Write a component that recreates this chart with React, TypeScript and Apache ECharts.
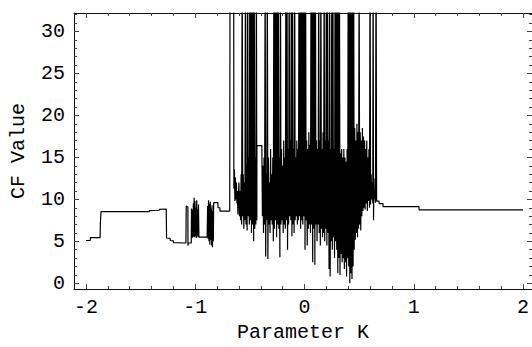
import React, { useEffect, useRef } from "react";
import * as echarts from "echarts";

// Stable region left of the chaotic band: [K, CF]
const leftPoints: [number, number][] = [
  [-2.0, 5.1], [-1.96, 5.1], [-1.958, 5.45], [-1.87, 5.45], [-1.868, 7.0], [-1.862, 8.55],
  [-1.42, 8.55], [-1.418, 8.65], [-1.33, 8.7], [-1.328, 8.8], [-1.265, 8.85], [-1.262, 5.4],
  [-1.23, 5.35], [-1.228, 5.1], [-1.2, 5.05], [-1.198, 4.85], [-1.085, 4.8], [-1.082, 9.2],
  [-1.067, 9.1], [-1.066, 4.5], [-1.062, 4.8], [-1.036, 4.8], [-1.034, 8.9], [-1.029, 5.4],
  [-1.024, 8.8], [-1.021, 5.5], [-1.017, 9.5], [-1.013, 5.6], [-1.01, 10.2], [-1.006, 5.5],
  [-1.002, 9.8], [-0.998, 5.6], [-0.994, 9.0], [-0.99, 5.4], [-0.986, 9.9], [-0.982, 5.7],
  [-0.978, 8.8], [-0.974, 5.5], [-0.97, 9.4], [-0.966, 5.6], [-0.962, 5.5], [-0.891, 5.5],
  [-0.886, 9.2], [-0.882, 5.3], [-0.878, 9.9], [-0.874, 5.0], [-0.87, 9.5], [-0.866, 4.6],
  [-0.862, 9.7], [-0.858, 5.2], [-0.854, 8.9], [-0.85, 4.5], [-0.846, 9.3], [-0.842, 4.3],
  [-0.838, 8.6], [-0.834, 5.0], [-0.831, 9.6], [-0.792, 9.6], [-0.791, 9.0], [-0.774, 9.0],
  [-0.773, 8.6], [-0.684, 8.6], [-0.681, 40], [-0.648, 40], [-0.646, 11.3], [-0.641, 13.6],
  [-0.637, 9.8], [-0.632, 12.6], [-0.628, 10.0], [-0.623, 12.0], [-0.618, 9.5], [-0.614, 11.0],
  [-0.609, 8.2], [-0.604, 10.5],
];

// Chaotic band (values above the top are clipped spikes): [K, CF]
const densePoints: [number, number][] = [
  [-0.6, 12], [-0.595, 8], [-0.59, 11], [-0.585, 7.5], [-0.58, 13], [-0.575, 7], [-0.57, 40],
  [-0.565, 8], [-0.56, 13], [-0.555, 6.5], [-0.55, 12], [-0.545, 7.5], [-0.54, 40], [-0.535, 7],
  [-0.53, 14], [-0.525, 6.3], [-0.52, 40], [-0.515, 8], [-0.51, 15], [-0.505, 7], [-0.5, 40],
  [-0.495, 7.5], [-0.49, 40], [-0.485, 6], [-0.48, 40], [-0.475, 7], [-0.47, 40], [-0.465, 5],
  [-0.46, 40], [-0.455, 6.5], [-0.45, 15], [-0.445, 7], [-0.44, 40], [-0.436, 7.5], [-0.435, 16.4],
  [-0.39, 16.4], [-0.385, 8], [-0.38, 14], [-0.375, 6], [-0.37, 15], [-0.365, 7], [-0.36, 40],
  [-0.355, 3.2], [-0.35, 13], [-0.345, 7.5], [-0.34, 40], [-0.335, 2.9], [-0.33, 15], [-0.325, 7],
  [-0.32, 12], [-0.315, 6], [-0.31, 16], [-0.305, 7.5], [-0.3, 13], [-0.295, 7], [-0.29, 15],
  [-0.285, 5], [-0.28, 40], [-0.275, 6.5], [-0.27, 40], [-0.265, 7.5], [-0.26, 40], [-0.255, 5.5],
  [-0.25, 40], [-0.245, 7], [-0.24, 40], [-0.235, 6.5], [-0.23, 15], [-0.225, 3.1], [-0.22, 40],
  [-0.215, 7], [-0.21, 16], [-0.205, 7.5], [-0.2, 14], [-0.195, 6], [-0.19, 17], [-0.185, 7],
  [-0.18, 15], [-0.175, 6.5], [-0.17, 40], [-0.165, 7.5], [-0.16, 40], [-0.155, 4], [-0.15, 16],
  [-0.145, 7], [-0.14, 40], [-0.135, 8], [-0.13, 17], [-0.125, 7.5], [-0.12, 40], [-0.115, 5.6],
  [-0.11, 40], [-0.105, 7], [-0.1, 16], [-0.095, 6], [-0.09, 40], [-0.085, 7.5], [-0.08, 15],
  [-0.075, 8], [-0.07, 17], [-0.065, 7], [-0.06, 16], [-0.055, 7.5], [-0.05, 40], [-0.045, 8],
  [-0.04, 40], [-0.035, 6.5], [-0.03, 40], [-0.025, 7.5], [-0.02, 40], [-0.015, 7], [-0.01, 40],
  [-0.005, 8], [0.0, 40], [0.005, 4], [0.01, 40], [0.015, 7.5], [0.02, 17], [0.025, 4.5],
  [0.03, 16], [0.035, 6.5], [0.04, 18], [0.045, 7], [0.05, 16.5], [0.055, 6], [0.06, 40],
  [0.065, 7], [0.07, 40], [0.075, 2.5], [0.08, 40], [0.085, 6.5], [0.09, 40], [0.095, 2.2],
  [0.1, 40], [0.105, 7], [0.11, 17], [0.115, 5], [0.12, 16], [0.125, 7], [0.13, 40], [0.135, 6],
  [0.14, 17], [0.145, 4.5], [0.15, 40], [0.155, 6.5], [0.16, 16], [0.165, 5.5], [0.17, 18],
  [0.175, 6], [0.18, 40], [0.185, 5], [0.19, 17], [0.195, 6.5], [0.2, 40], [0.205, 4.5],
  [0.21, 40], [0.215, 6], [0.22, 17], [0.225, 1.7], [0.23, 40], [0.235, 0.8], [0.24, 16],
  [0.245, 5], [0.25, 40], [0.255, 4], [0.26, 40], [0.265, 5.5], [0.27, 16], [0.275, 3],
  [0.28, 40], [0.285, 5], [0.29, 40], [0.295, 4], [0.3, 40], [0.305, 1.2], [0.31, 40], [0.315, 3],
  [0.32, 40], [0.325, 1.0], [0.33, 15.5], [0.335, 3.5], [0.34, 16], [0.345, 2.5], [0.35, 15],
  [0.355, 3], [0.36, 16], [0.365, 1.7], [0.37, 15], [0.375, 2.5], [0.38, 14.5], [0.385, 0.8],
  [0.39, 16], [0.395, 3], [0.4, 40], [0.405, 2], [0.41, 40], [0.415, 0], [0.42, 40], [0.425, 1.2],
  [0.43, 40], [0.435, 0.5], [0.44, 40], [0.445, 2], [0.45, 40], [0.455, 4], [0.46, 18.5],
  [0.465, 5.2], [0.47, 17], [0.475, 6], [0.48, 19], [0.485, 5.5], [0.49, 18], [0.495, 6.5],
  [0.5, 40], [0.505, 7], [0.51, 18], [0.515, 6.3], [0.52, 17], [0.525, 8], [0.53, 18.5],
  [0.535, 8.6], [0.54, 17.5], [0.545, 9], [0.55, 17], [0.555, 8.8], [0.56, 16], [0.565, 9.5],
  [0.57, 17], [0.575, 8.6], [0.58, 15], [0.585, 9.8], [0.59, 16], [0.595, 9], [0.6, 40],
  [0.605, 9.4], [0.61, 13], [0.615, 10], [0.62, 12], [0.625, 9.5], [0.628, 40], [0.632, 7.5],
  [0.636, 12.5], [0.64, 10], [0.645, 11], [0.65, 9.6], [0.655, 40], [0.66, 9.8],
];

// Stable region right of the band: [K, CF]
const rightPoints: [number, number][] = [
  [0.664, 9.8], [0.682, 9.8], [0.683, 9.5], [0.718, 9.5], [0.719, 9.13], [1.048, 9.13],
  [1.049, 8.74], [2.0, 8.74],
];

const xTicks = [-2, -1, 0, 1, 2];
const xMinorTicks = [-1.8, -1.6, -1.4, -1.2, -0.8, -0.6, -0.4, -0.2, 0.2, 0.4, 0.6, 0.8, 1.2, 1.4, 1.6, 1.8];
const yTicks = [0, 5, 10, 15, 20, 25, 30];
const yMinorTicks = [1, 2, 3, 4, 6, 7, 8, 9, 11, 12, 13, 14, 16, 17, 18, 19, 21, 22, 23, 24, 26, 27, 28, 29, 31, 32];

const FONT = "'Liberation Mono', 'Courier New', monospace";
const X_MIN = -2.109;
const X_MAX = 2.082;
const Y_MIN = -0.69;
const Y_MAX = 32.2;

export default function App() {
  const ref = useRef<HTMLDivElement>(null);
  useEffect(() => {
    if (!ref.current) return;
    const chart = echarts.init(ref.current, undefined, { renderer: "svg" });
    const data = [...leftPoints, ...densePoints, ...rightPoints];
    const frameColor = "#111";
    const tickColor = "#444";
    const mkX = (position: "top" | "bottom", values: number[], len: number, main: boolean, showLine: boolean) => ({
      type: "value",
      min: X_MIN,
      max: X_MAX,
      position,
      axisLine: { show: showLine, onZero: false, lineStyle: { color: frameColor, width: 1 } },
      axisTick: { show: true, inside: true, length: len, customValues: values, lineStyle: { color: tickColor, width: 1 } },
      axisLabel: main
        ? { show: true, customValues: xTicks, fontFamily: FONT, fontSize: 20, color: "#000", margin: 8, formatter: (v: number) => String(v) }
        : { show: false },
      splitLine: { show: false },
      ...(main
        ? {
            name: "Parameter K",
            nameLocation: "middle",
            nameGap: 21,
            nameTextStyle: { fontFamily: FONT, fontSize: 20, color: "#000", verticalAlign: "top" },
          }
        : {}),
    });
    const mkY = (position: "left" | "right", values: number[], len: number, main: boolean, showLine: boolean) => ({
      type: "value",
      min: Y_MIN,
      max: Y_MAX,
      position,
      axisLine: { show: showLine, onZero: false, lineStyle: { color: frameColor, width: 1 } },
      axisTick: { show: true, inside: true, length: len, customValues: values, lineStyle: { color: tickColor, width: 1 } },
      axisLabel: main
        ? { show: true, customValues: yTicks, fontFamily: FONT, fontSize: 20, color: "#000", margin: 9 }
        : { show: false },
      splitLine: { show: false },
      ...(main
        ? {
            name: "CF Value",
            nameLocation: "middle",
            nameGap: 46,
            nameTextStyle: { fontFamily: FONT, fontSize: 20, color: "#000" },
          }
        : {}),
    });
    chart.setOption({
      animation: false,
      backgroundColor: "#fff",
      grid: { left: 71, right: 0, top: 13, bottom: 49, containLabel: false },
      xAxis: [
        mkX("bottom", xTicks, 5, true, true),
        mkX("bottom", xMinorTicks, 3, false, false),
        mkX("top", xTicks, 5, false, true),
        mkX("top", xMinorTicks, 3, false, false),
      ],
      yAxis: [
        mkY("left", yTicks, 5, true, true),
        mkY("left", yMinorTicks, 3, false, false),
        mkY("right", yTicks, 5, false, true),
        mkY("right", yMinorTicks, 3, false, false),
      ],
      series: [
        {
          type: "line",
          xAxisIndex: 0,
          yAxisIndex: 0,
          data,
          showSymbol: false,
          symbol: "none",
          clip: true,
          lineStyle: { color: "#000", width: 1.2 },
        },
      ],
    });
    return () => chart.dispose();
  }, []);
  return <div ref={ref} style={{ position: "fixed", left: 0, top: 0, width: 532, height: 347 }} />;
}
